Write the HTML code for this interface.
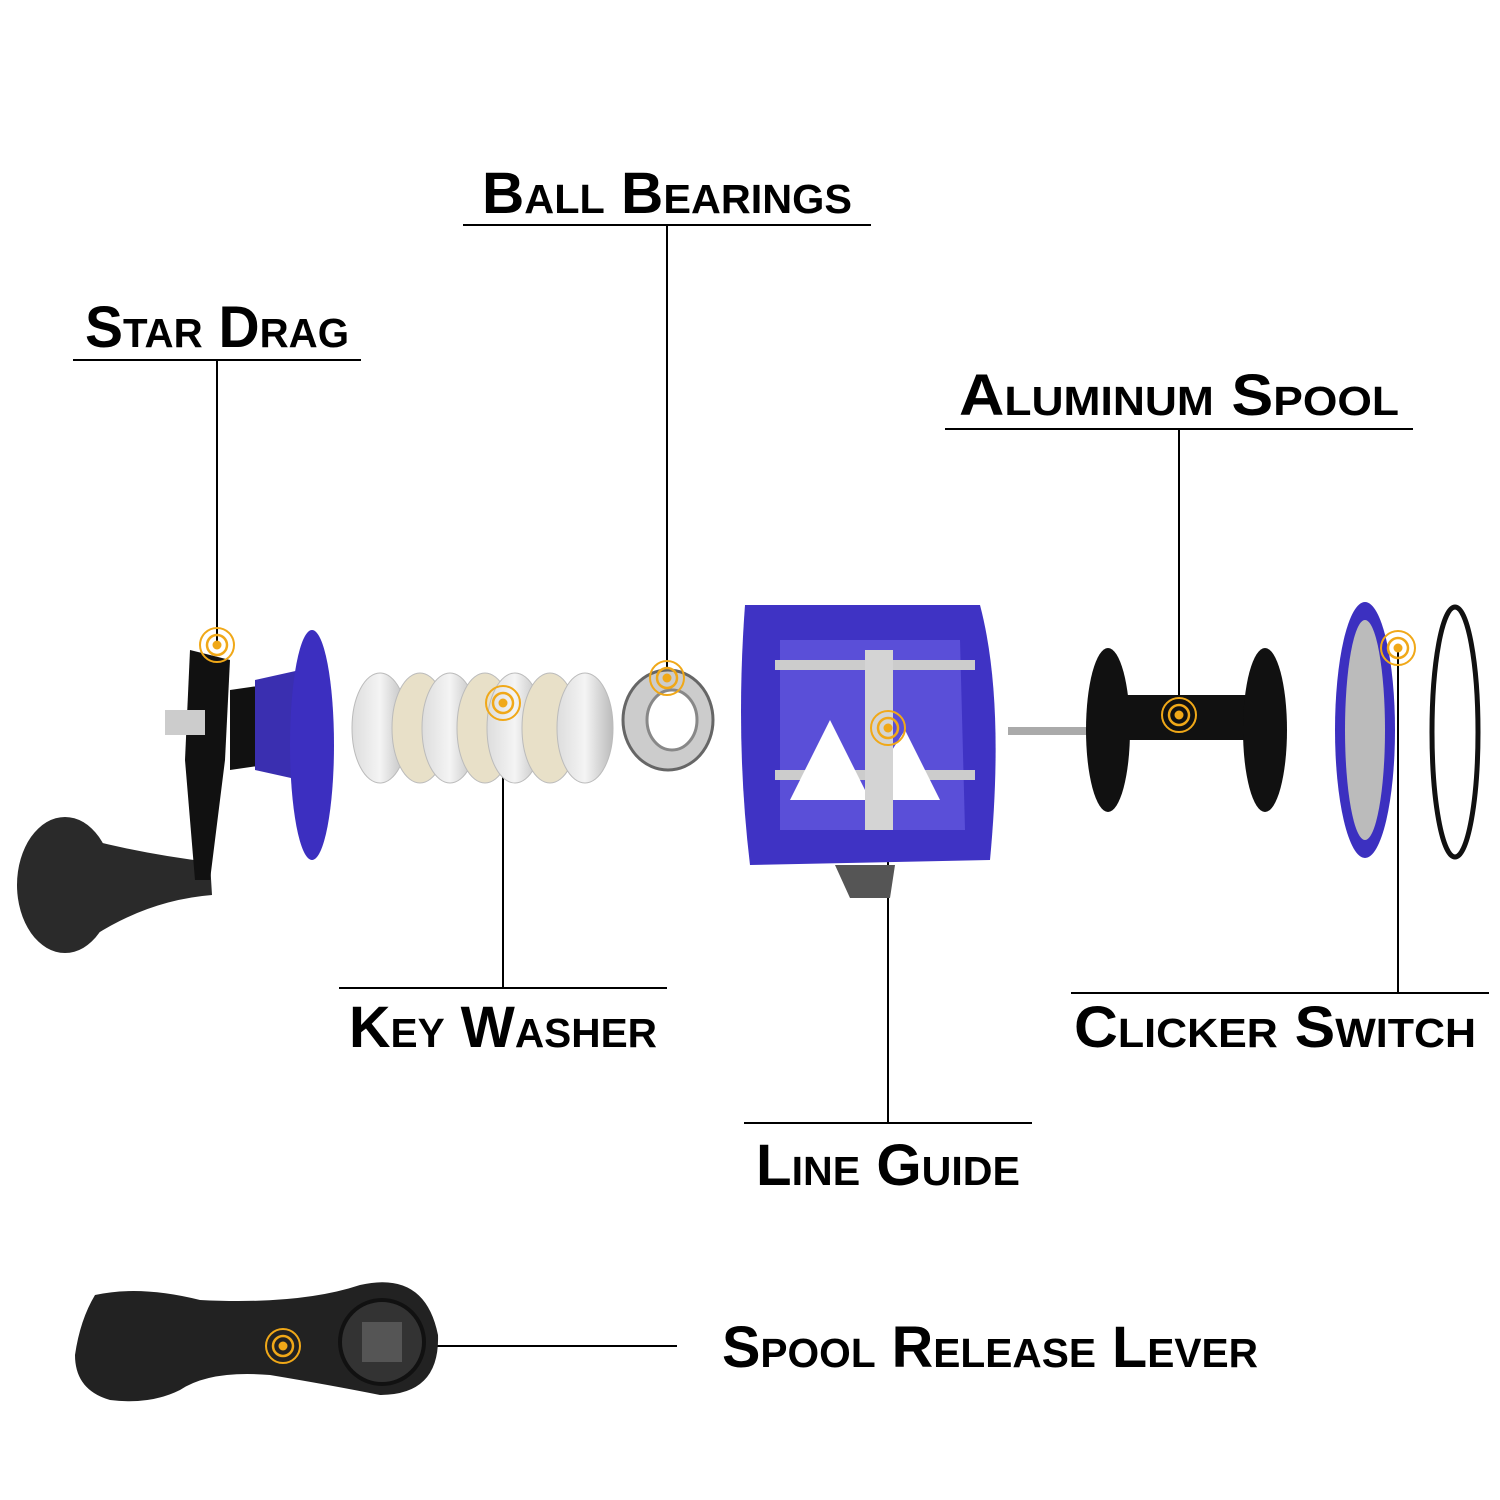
<!DOCTYPE html>
<html><head><meta charset="utf-8"><style>
html,body{margin:0;padding:0;background:#fff}
svg{display:block}
text{font-family:"Liberation Sans Narrow","Liberation Sans",sans-serif;font-weight:bold;font-variant:small-caps;fill:#000}
</style></head><body>
<svg width="1500" height="1500" viewBox="0 0 1500 1500" xmlns="http://www.w3.org/2000/svg">
<defs>
<g id="tg"><circle r="17" fill="none" stroke="#f0a818" stroke-width="2"/><circle r="10" fill="none" stroke="#f0a818" stroke-width="2.5"/><circle r="4.5" fill="#f0a818"/></g>
<linearGradient id="wg" x1="0" x2="1"><stop offset="0" stop-color="#ddd"/><stop offset=".5" stop-color="#f4f4f4"/><stop offset="1" stop-color="#bbb"/></linearGradient>
</defs>
<g font-size="58" text-anchor="middle">
<text x="667" y="213" textLength="370" lengthAdjust="spacingAndGlyphs">Ball Bearings</text>
<text x="217" y="347" textLength="264" lengthAdjust="spacingAndGlyphs">Star Drag</text>
<text x="1179" y="415" textLength="440" lengthAdjust="spacingAndGlyphs">Aluminum Spool</text>
<text x="503" y="1047" textLength="308" lengthAdjust="spacingAndGlyphs">Key Washer</text>
<text x="1275" y="1047" textLength="402" lengthAdjust="spacingAndGlyphs">Clicker Switch</text>
<text x="888" y="1185" textLength="264" lengthAdjust="spacingAndGlyphs">Line Guide</text>
<text x="990" y="1367" textLength="536" lengthAdjust="spacingAndGlyphs">Spool Release Lever</text>
</g>
<g stroke="#000" stroke-width="2" fill="none">
<path d="M463 225H871M667 225V678"/>
<path d="M73 360H361M217 360V645"/>
<path d="M945 429H1413M1179 429V715"/>
<path d="M339 988H667M503 988V703"/>
<path d="M1071 993H1489M1398 993V648"/>
<path d="M744 1123H1032M888 1123V728"/>
<path d="M283 1346H677"/>
</g>
<!-- handle -->
<ellipse cx="65" cy="885" rx="48" ry="68" fill="#2a2a2a"/>
<path d="M90 840 Q150 855 210 862 L212 895 Q150 900 95 935Z" fill="#2a2a2a"/>
<path d="M190 650 L230 660 L225 760 L210 880 L195 880 L185 760Z" fill="#111"/>
<rect x="165" y="710" width="40" height="25" fill="#ccc"/>
<path d="M230 690 L300 680 L300 760 L230 770Z" fill="#111"/>
<path d="M255 680 L300 670 L300 780 L255 770Z" fill="#3a2fb0"/>
<ellipse cx="312" cy="745" rx="22" ry="115" fill="#3c2fc0"/>
<g stroke="#bbb" stroke-width="1">
<ellipse cx="380" cy="728" rx="28" ry="55" fill="url(#wg)"/>
<ellipse cx="420" cy="728" rx="28" ry="55" fill="#e8e0c8"/>
<ellipse cx="450" cy="728" rx="28" ry="55" fill="url(#wg)"/>
<ellipse cx="485" cy="728" rx="28" ry="55" fill="#e8e0c8"/>
<ellipse cx="515" cy="728" rx="28" ry="55" fill="url(#wg)"/>
<ellipse cx="550" cy="728" rx="28" ry="55" fill="#e8e0c8"/>
<ellipse cx="585" cy="728" rx="28" ry="55" fill="url(#wg)"/>
</g>
<ellipse cx="668" cy="720" rx="45" ry="50" fill="#ccc" stroke="#666" stroke-width="3"/>
<ellipse cx="672" cy="720" rx="25" ry="30" fill="#fff" stroke="#888" stroke-width="3"/>
<path d="M745 605 L980 605 Q1005 700 990 860 L750 865 Q735 740 745 605Z" fill="#3f33c4"/>
<path d="M780 640 L960 640 L965 830 L780 830Z" fill="#5a4fd8"/>
<rect x="775" y="660" width="200" height="10" fill="#ccc"/>
<rect x="775" y="770" width="200" height="10" fill="#ccc"/>
<path d="M790 800 L830 720 L870 800Z M860 800 L905 730 L940 800Z" fill="#fff"/>
<rect x="865" y="650" width="28" height="180" fill="#d4d4d4"/>
<path d="M835 865 L895 865 L890 898 L850 898Z" fill="#555"/>
<rect x="1008" y="727" width="120" height="8" fill="#aaa"/>
<ellipse cx="1108" cy="730" rx="22" ry="82" fill="#111"/>
<rect x="1110" y="695" width="150" height="45" fill="#111"/>
<ellipse cx="1265" cy="730" rx="22" ry="82" fill="#111"/>
<ellipse cx="1365" cy="730" rx="30" ry="128" fill="#3c30c0"/>
<ellipse cx="1365" cy="730" rx="20" ry="110" fill="#bbb"/>
<ellipse cx="1455" cy="732" rx="23" ry="125" fill="none" stroke="#111" stroke-width="5"/>
<path d="M95 1295 Q140 1285 200 1300 Q300 1305 360 1285 Q425 1270 438 1335 Q440 1395 380 1395 Q330 1385 270 1375 Q210 1370 180 1390 Q150 1405 110 1400 Q75 1390 75 1355 Q80 1320 95 1295Z" fill="#222"/>
<ellipse cx="382" cy="1342" rx="42" ry="42" fill="#333" stroke="#111" stroke-width="4"/>
<rect x="362" y="1322" width="40" height="40" fill="#555"/>
<use href="#tg" x="217" y="645"/>
<use href="#tg" x="667" y="678"/>
<use href="#tg" x="503" y="703"/>
<use href="#tg" x="888" y="728"/>
<use href="#tg" x="1179" y="715"/>
<use href="#tg" x="1398" y="648"/>
<use href="#tg" x="283" y="1346"/>
</svg>
</body></html>
